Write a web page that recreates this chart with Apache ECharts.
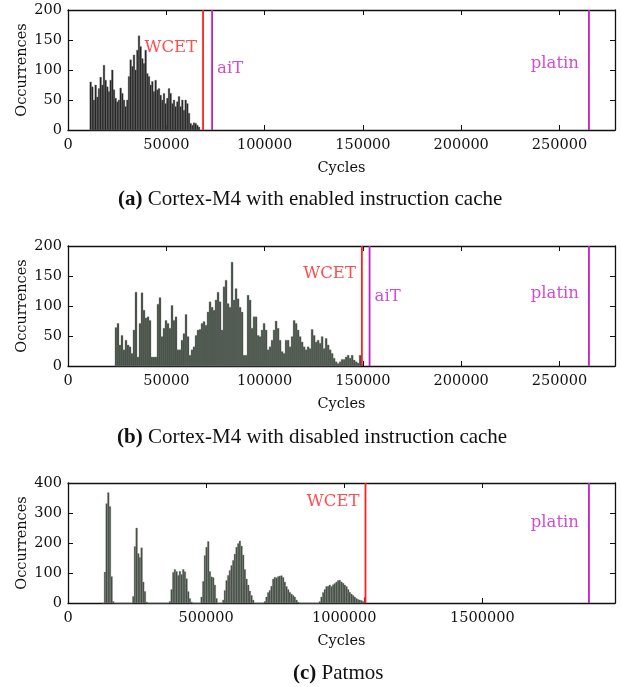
<!DOCTYPE html>
<html>
<head>
<meta charset="utf-8">
<script src="https://cdn.jsdelivr.net/npm/echarts@6/dist/echarts.min.js"></script>
<style>
  html, body { margin: 0; padding: 0; background: #fff; }
  #chart { width: 621px; height: 687px; }
</style>
</head>
<body>
<div id="chart"></div>
<script>
// histogram bins: lower edge of first bin, bin width, counts per bin
var m4CacheStart = 11100;
var m4CacheWidth = 848;
var m4CacheCounts = [80, 72, 50, 75, 55, 69, 88, 75, 108, 83, 72, 64, 83, 100, 67, 53, 47, 50, 70, 61,
  50, 39, 50, 89, 117, 106, 125, 100, 133, 157, 139, 119, 111, 133, 94, 89, 75, 81, 64, 83,
  67, 69, 58, 50, 61, 44, 53, 69, 61, 44, 50, 39, 47, 56, 39, 50, 33, 50, 44, 28,
  11, 8, 12, 11, 8, 5];

var m4NoCacheStart = 23900;
var m4NoCacheWidth = 1018;
var m4NoCacheCounts = [64, 71, 35, 51, 27, 43, 35, 32, 21, 60, 123, 15, 71, 122, 93, 80, 82, 76, 15, 15,
  15, 103, 114, 49, 63, 76, 71, 63, 101, 76, 82, 27, 27, 43, 54, 86, 49, 18, 27, 32,
  51, 60, 61, 71, 74, 68, 90, 107, 98, 93, 110, 123, 107, 60, 132, 143, 104, 98, 173, 110,
  129, 112, 98, 90, 18, 18, 118, 110, 63, 82, 82, 51, 49, 60, 71, 60, 27, 32, 43, 60,
  75, 63, 43, 24, 21, 43, 43, 32, 49, 76, 71, 60, 49, 40, 32, 27, 32, 29, 61, 51,
  40, 43, 38, 49, 29, 46, 35, 27, 21, 13, 7, 4, 7, 11, 11, 15, 18, 13, 18, 10,
  7, 5, 18];

var patmosStart = 124800;
var patmosWidth = 6030;
var patmosCounts = [0, 103, 331, 368, 322, 88, 5, 0, 0, 0, 0, 0, 0, 0, 0, 0, 0, 0,
  22, 188, 250, 165, 152, 184, 70, 38, 3, 0, 0, 0, 0, 0, 0, 0, 0, 0, 0, 0, 0, 0,
  5, 45, 102, 112, 105, 92, 106, 95, 112, 104, 81, 38, 15, 3, 0, 0, 0, 0, 0,
  20, 72, 158, 186, 205, 105, 87, 85, 60, 15, 0, 0, 0,
  10, 42, 75, 92, 108, 125, 142, 163, 186, 198, 207, 190, 160, 112, 80, 60, 40, 25, 10,
  0, 0, 0, 0, 0, 0,
  5, 20, 35, 42, 56, 80, 86, 84, 88, 90, 91, 85, 70, 55, 45, 36, 30, 25, 20, 10, 3,
  0, 0, 0, 0, 0, 0, 0, 0, 0, 0, 0, 0,
  5, 20, 35, 45, 55, 56, 60, 55, 61, 65, 70, 75, 76, 70, 66, 60, 55, 45, 36, 30,
  25, 20, 15, 12, 10, 8, 5, 18];

// bound lines: names, cycle values, label heights (in occurrences)
var boundNames = ['WCET', 'aiT', 'platin'];
var m4CacheBounds = [68700, 73300, 265000];
var m4CacheLabelY = [137, 102, 111];
var m4NoCacheBounds = [149500, 153400, 265000];
var m4NoCacheLabelY = [154, 116, 121];
var patmosBoundNames = ['WCET', 'platin'];
var patmosBounds = [1077000, 1886000];
var patmosLabelY = [337, 268];

var captions = ['(a)', '(b)', '(c)'];
var captionTexts = ['Cortex-M4 with enabled instruction cache', 'Cortex-M4 with disabled instruction cache', 'Patmos'];

var FONT = 'DejaVu Serif';
var INK = '#111';
var RED = '#ff1f1f';
var MAGENTA = '#c41fc4';

function toBins(start, width, counts) {
  return counts.map(function (c, i) {
    return [start + i * width, start + (i + 1) * width, c];
  });
}

function binRenderer(fill, stroke) {
  return function (params, api) {
    var a = api.coord([api.value(0), api.value(2)]);
    var b = api.coord([api.value(1), 0]);
    return {
      type: 'rect',
      shape: { x: a[0], y: a[1], width: b[0] - a[0], height: b[1] - a[1] },
      style: { fill: fill, stroke: stroke, lineWidth: 0.4 }
    };
  };
}

var chart = echarts.init(document.getElementById('chart'));

var gridTops = [10, 246, 483];
var xMax = [278250, 278250, 1980300];
var xInterval = [50000, 50000, 500000];
var yMax = [200, 200, 400];
var yInterval = [50, 50, 100];

var grids = [], xAxes = [], yAxes = [], series = [];

function numLabel(v) { return String(v); }

for (var g = 0; g < 3; g++) {
  grids.push({ left: 68, top: gridTops[g], width: 547, height: 120 });
  var common = {
    gridIndex: g, type: 'value', min: 0, splitLine: { show: false },
    axisLine: { onZero: false, lineStyle: { color: INK, width: 1.3 } },
    axisTick: { inside: true, length: 5, lineStyle: { color: INK, width: 1 } }
  };
  xAxes.push(Object.assign({}, common, {
    position: 'bottom', max: xMax[g], interval: xInterval[g],
    name: 'Cycles', nameLocation: 'middle', nameGap: 31, nameMoveOverlap: false,
    nameTextStyle: { fontFamily: FONT, fontSize: 14.5, color: INK },
    axisLabel: { fontFamily: FONT, fontSize: 14.5, color: INK, margin: 8,
      showMaxLabel: false, formatter: numLabel }
  }));
  xAxes.push(Object.assign({}, common, {
    position: 'top', max: xMax[g], interval: xInterval[g], axisLabel: { show: false }
  }));
  yAxes.push(Object.assign({}, common, {
    position: 'left', max: yMax[g], interval: yInterval[g],
    name: 'Occurrences', nameLocation: 'middle', nameGap: 38, nameMoveOverlap: false,
    nameTextStyle: { fontFamily: FONT, fontSize: 14.5, color: INK },
    axisLabel: { fontFamily: FONT, fontSize: 14.5, color: INK, margin: 6, formatter: numLabel }
  }));
  yAxes.push(Object.assign({}, common, {
    position: 'right', max: yMax[g], interval: yInterval[g], axisLabel: { show: false }
  }));
}

var hist = [
  { bins: toBins(m4CacheStart, m4CacheWidth, m4CacheCounts), fill: '#1e1e1e', stroke: '#6e6e6e' },
  { bins: toBins(m4NoCacheStart, m4NoCacheWidth, m4NoCacheCounts), fill: '#3c473c', stroke: '#858c85' },
  { bins: toBins(patmosStart, patmosWidth, patmosCounts), fill: '#3c473c', stroke: '#858c85' }
];

hist.forEach(function (h, g) {
  series.push({
    type: 'custom', xAxisIndex: 2 * g, yAxisIndex: 2 * g, silent: true,
    renderItem: binRenderer(h.fill, h.stroke),
    encode: { x: [0, 1], y: 2 },
    data: h.bins
  });
});

function addBounds(g, names, values, labelY) {
  names.forEach(function (name, i) {
    var color = name === 'WCET' ? RED : MAGENTA;
    series.push({
      type: 'line', xAxisIndex: 2 * g, yAxisIndex: 2 * g, silent: true,
      symbol: 'none', lineStyle: { color: color, width: 1.8 },
      data: [[values[i], 0], [values[i], yMax[g]]]
    });
    var right = name === 'aiT';
    series.push({
      type: 'scatter', xAxisIndex: 2 * g, yAxisIndex: 2 * g, silent: true,
      symbolSize: 0,
      data: [{ value: [values[i], labelY[i]], name: name }],
      label: {
        show: true, position: right ? 'right' : 'left',
        distance: right ? 5 : (name === 'platin' ? 10 : 6),
        formatter: '{b}', fontFamily: FONT, fontSize: 16.5, color: color
      }
    });
  });
}

addBounds(0, boundNames, m4CacheBounds, m4CacheLabelY);
addBounds(1, boundNames, m4NoCacheBounds, m4NoCacheLabelY);
addBounds(2, patmosBoundNames, patmosBounds, patmosLabelY);

var captionLeft = [118, 117, 293];
var captionTop = [189, 427, 663];
var titles = captions.map(function (c, i) {
  return {
    text: '{b|' + c + '} ' + captionTexts[i],
    left: captionLeft[i], top: captionTop[i], padding: 0,
    textStyle: {
      fontFamily: 'Liberation Serif', fontSize: 21, fontWeight: 'normal', color: INK,
      rich: { b: { fontFamily: 'Liberation Serif', fontSize: 21, fontWeight: 'bold', color: INK } }
    }
  };
});

chart.setOption({
  animation: false,
  title: titles,
  grid: grids,
  xAxis: xAxes,
  yAxis: yAxes,
  series: series
});
</script>
</body>
</html>
